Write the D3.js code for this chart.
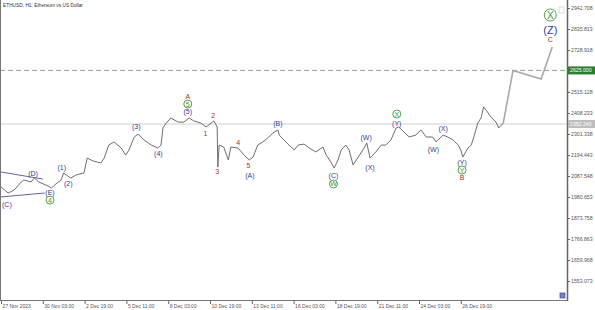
<!DOCTYPE html>
<html>
<head>
<meta charset="utf-8">
<script src="https://cdn.jsdelivr.net/npm/d3@7"></script>
<style>
  body { margin: 0; background: #fff; }
  svg { display: block; font-family: "Liberation Sans", Arial, sans-serif; }
</style>
</head>
<body>
<svg id="chart" width="595" height="310"></svg>
<script>
// price series (H1 closes)
var times = ["2023-11-27 11:00","2023-11-27 22:00","2023-11-28 07:00","2023-11-28 18:00","2023-11-28 22:00",
  "2023-11-29 09:00","2023-11-29 14:00","2023-11-29 21:00","2023-11-30 11:00","2023-11-30 16:00",
  "2023-11-30 23:00","2023-12-01 07:00","2023-12-01 11:00","2023-12-01 19:00","2023-12-01 22:00",
  "2023-12-02 06:00","2023-12-02 18:00","2023-12-02 23:00","2023-12-03 08:00","2023-12-03 20:00",
  "2023-12-04 01:00","2023-12-04 08:00","2023-12-04 16:00","2023-12-05 03:00","2023-12-05 10:00",
  "2023-12-05 15:00","2023-12-05 23:00","2023-12-06 05:00","2023-12-06 14:00","2023-12-07 01:00",
  "2023-12-07 11:00","2023-12-07 16:00","2023-12-07 19:00","2023-12-08 00:00","2023-12-08 07:00",
  "2023-12-08 18:00","2023-12-09 03:00","2023-12-09 11:00","2023-12-09 18:00","2023-12-10 05:00",
  "2023-12-10 13:00","2023-12-10 17:00","2023-12-11 01:00","2023-12-11 06:00","2023-12-11 07:00",
  "2023-12-11 09:00","2023-12-11 16:00","2023-12-11 23:00","2023-12-12 03:00","2023-12-12 14:00",
  "2023-12-12 23:00","2023-12-13 07:00","2023-12-13 13:00","2023-12-13 20:00","2023-12-14 04:00",
  "2023-12-14 13:00","2023-12-14 19:00","2023-12-15 03:00","2023-12-15 05:00","2023-12-15 12:00",
  "2023-12-15 20:00","2023-12-16 04:00","2023-12-16 10:00","2023-12-16 19:00","2023-12-17 03:00",
  "2023-12-17 13:00","2023-12-18 00:00","2023-12-18 05:00","2023-12-18 12:00","2023-12-18 17:00",
  "2023-12-18 23:00","2023-12-19 04:00","2023-12-19 11:00","2023-12-19 16:00","2023-12-19 22:00",
  "2023-12-20 06:00","2023-12-20 15:00","2023-12-20 19:00","2023-12-21 00:00","2023-12-21 09:00",
  "2023-12-21 17:00","2023-12-22 00:00","2023-12-22 08:00","2023-12-22 16:00","2023-12-22 20:00",
  "2023-12-23 04:00","2023-12-23 12:00","2023-12-23 22:00","2023-12-24 06:00","2023-12-24 14:00",
  "2023-12-25 00:00","2023-12-25 05:00","2023-12-25 16:00","2023-12-25 23:00","2023-12-26 07:00",
  "2023-12-26 15:00","2023-12-26 19:00","2023-12-26 22:00","2023-12-27 06:00","2023-12-27 11:00",
  "2023-12-27 15:00","2023-12-27 21:00","2023-12-28 02:00","2023-12-28 06:00","2023-12-28 13:00",
  "2023-12-28 17:00","2023-12-29 01:00","2023-12-29 05:00","2023-12-29 12:00"];
var prices = [2032,2001,2016,2057,2067, 2057,2077,2057,2037,2026,
  2047,2067,2103,2083,2077, 2093,2103,2179,2164,2154,
  2179,2245,2261,2230,2194, 2220,2286,2301,2271,2245,
  2230,2245,2332,2357,2383, 2362,2362,2383,2368,2357,
  2337,2347,2368,2337,2133, 2245,2235,2169,2235,2230,
  2194,2169,2184,2245,2261, 2286,2306,2322,2296,2271,
  2245,2220,2245,2250,2230, 2210,2235,2194,2159,2128,
  2169,2220,2245,2220,2144, 2184,2230,2256,2179,2210,
  2245,2245,2271,2332,2337, 2311,2286,2296,2322,2286,
  2286,2261,2296,2286,2271, 2245,2220,2184,2230,2245,
  2286,2357,2383,2439,2408, 2388,2362,2332,2357];

// projected path
var forecastTimes = ["2023-12-29 12:00","2023-12-30 03:00","2023-12-31 22:00","2024-01-01 15:00"];
var forecastPrices = [2357, 2625, 2581, 2744];

// triangle lines (D)-(E)
var triUpper = [["2023-11-27 11:00", 2108], ["2023-11-30 03:00", 2072]];
var triLower = [["2023-11-27 11:00", 1981], ["2023-11-30 06:00", 2001]];

var targetLevel = 2625.000;
var currentLevel = 2352.240;

var yTicks = [2942.708, 2835.813, 2728.918, 2515.128, 2408.233, 2301.338, 2194.443,
  2087.548, 1980.653, 1873.758, 1766.863, 1659.968, 1553.073];
var xTickTimes = ["2023-11-27 11:00","2023-11-30 03:00","2023-12-02 19:00","2023-12-05 11:00",
  "2023-12-08 03:00","2023-12-10 19:00","2023-12-13 11:00","2023-12-16 03:00",
  "2023-12-18 19:00","2023-12-21 11:00","2023-12-24 03:00","2023-12-26 19:00"];
var xTickLabels = ["27 Nov 2023","30 Nov 03:00","2 Dec 19:00","5 Dec 11:00","8 Dec 03:00",
  "10 Dec 19:00","13 Dec 11:00","16 Dec 03:00","18 Dec 19:00","21 Dec 11:00",
  "24 Dec 03:00","26 Dec 19:00"];

// wave labels: time, price, text, kind
var waveLabels = [
  ["2023-11-27 20:00", 1945, "(C)", "navy"],
  ["2023-11-29 12:00", 2098, "(D)", "navy"],
  ["2023-11-30 14:00", 2006, "(E)", "navy"],
  ["2023-11-30 14:00", 1965, "4", "circle"],
  ["2023-12-01 08:00", 2133, "(1)", "navy"],
  ["2023-12-01 18:00", 2047, "(2)", "navy"],
  ["2023-12-06 02:00", 2337, "(3)", "navy"],
  ["2023-12-07 12:00", 2200, "(4)", "navy"],
  ["2023-12-09 09:00", 2418, "(5)", "navy"],
  ["2023-12-09 09:00", 2454, "5", "circle"],
  ["2023-12-09 09:00", 2490, "A", "red"],
  ["2023-12-10 12:00", 2306, "1", "red"],
  ["2023-12-11 00:00", 2398, "2", "red"],
  ["2023-12-11 06:00", 2108, "3", "red"],
  ["2023-12-12 14:00", 2256, "4", "red"],
  ["2023-12-13 06:00", 2140, "5", "red"],
  ["2023-12-13 08:00", 2092, "(A)", "navy"],
  ["2023-12-15 03:00", 2357, "(B)", "navy"],
  ["2023-12-18 16:00", 2088, "(C)", "navy"],
  ["2023-12-18 16:00", 2047, "W", "circle"],
  ["2023-12-20 18:00", 2281, "(W)", "navy"],
  ["2023-12-21 00:00", 2133, "(X)", "navy"],
  ["2023-12-22 17:00", 2357, "(Y)", "navy"],
  ["2023-12-22 17:00", 2403, "X", "circle"],
  ["2023-12-25 01:00", 2220, "(W)", "navy"],
  ["2023-12-25 16:00", 2327, "(X)", "navy"],
  ["2023-12-26 21:00", 2154, "(Y)", "navy"],
  ["2023-12-26 21:00", 2118, "Y", "circle"],
  ["2023-12-26 21:00", 2082, "B", "red"],
  ["2024-01-01 12:00", 2907, "X", "bigcircle"],
  ["2024-01-01 12:00", 2831, "(Z)", "bignavy"],
  ["2024-01-01 12:00", 2780, "C", "red"]
];

var parseTime = d3.timeParse("%Y-%m-%d %H:%M");
var svg = d3.select("#chart");

var plotRight = 567, plotBottom = 300;

var x = d3.scaleTime()
  .domain([parseTime("2023-11-27 11:00"), parseTime("2024-01-02 13:36")])
  .range([1, plotRight]);
var y = d3.scaleLinear()
  .domain([1553.073, 2942.708])
  .range([281, 8]);

var navy = "#30409a", red = "#a8322b", green = "#3a9a3a";

// title
svg.append("text")
  .attr("x", 3).attr("y", 6.5)
  .attr("font-size", 4.8).attr("fill", "#333")
  .text("ETHUSD, H1:  Ethereum vs US Dollar");

// current price line
svg.append("line")
  .attr("x1", 0).attr("x2", plotRight)
  .attr("y1", y(currentLevel)).attr("y2", y(currentLevel))
  .attr("stroke", "#d0d0d0").attr("stroke-width", 1);

// target level dashed
svg.append("line")
  .attr("x1", 0).attr("x2", plotRight)
  .attr("y1", y(targetLevel)).attr("y2", y(targetLevel))
  .attr("stroke", "#7fb07f").attr("stroke-width", 1)
  .attr("stroke-dasharray", "5,3");

// triangle
var tline = d3.line()
  .x(function(d) { return x(parseTime(d[0])); })
  .y(function(d) { return y(d[1]); });
[triUpper, triLower].forEach(function(t) {
  svg.append("path").attr("d", tline(t))
    .attr("fill", "none").attr("stroke", "#3a3a8a").attr("stroke-width", 0.8);
});

// price
var pts = times.map(function(t, i) { return [parseTime(t), prices[i]]; });
var valueline = d3.line()
  .x(function(d) { return x(d[0]); })
  .y(function(d) { return y(d[1]); });
svg.append("path")
  .datum(pts)
  .attr("d", valueline)
  .attr("fill", "none").attr("stroke", "#6e6e6e").attr("stroke-width", 1);

// forecast
var fpts = forecastTimes.map(function(t, i) { return [parseTime(t), forecastPrices[i]]; });
svg.append("path")
  .datum(fpts)
  .attr("d", valueline)
  .attr("fill", "none").attr("stroke", "#a8a8a8").attr("stroke-width", 1.6);

// wave labels
waveLabels.forEach(function(l) {
  var lx = x(parseTime(l[0])), ly = y(l[1]), kind = l[3];
  if (kind === "circle" || kind === "bigcircle") {
    var r = kind === "bigcircle" ? 6 : 4;
    svg.append("circle").attr("cx", lx).attr("cy", ly).attr("r", r)
      .attr("fill", "#fff").attr("stroke", green).attr("stroke-width", 0.9);
    svg.append("text").attr("x", lx).attr("y", ly)
      .attr("text-anchor", "middle").attr("dominant-baseline", "central")
      .attr("font-size", kind === "bigcircle" ? 10 : 7).attr("fill", green)
      .text(l[2]);
  } else {
    svg.append("text").attr("x", lx).attr("y", ly)
      .attr("text-anchor", "middle").attr("dominant-baseline", "central")
      .attr("font-size", kind === "bignavy" ? 11 : 7)
      .attr("fill", kind === "red" ? red : navy)
      .text(l[2]);
  }
});

// frame
svg.append("line").attr("x1", 0.5).attr("x2", 0.5).attr("y1", 0).attr("y2", plotBottom)
  .attr("stroke", "#777");
svg.append("line").attr("x1", 0).attr("x2", plotRight).attr("y1", plotBottom + 0.5).attr("y2", plotBottom + 0.5)
  .attr("stroke", "#777");
svg.append("line").attr("x1", plotRight + 0.5).attr("x2", plotRight + 0.5).attr("y1", 0).attr("y2", plotBottom + 1)
  .attr("stroke", "#666").attr("stroke-width", 1.5);

// right axis
var yAxis = svg.append("g").attr("transform", "translate(" + (plotRight + 1) + ",0)")
  .call(d3.axisRight(y).tickValues(yTicks).tickSize(2).tickFormat(d3.format(".3f")));
yAxis.select(".domain").remove();
yAxis.selectAll("text").attr("font-size", 5.2).attr("fill", "#555").attr("x", 3);
yAxis.selectAll("line").attr("stroke", "#666");

// bottom axis
var xAxis = svg.append("g").attr("transform", "translate(0," + (plotBottom + 1) + ")")
  .call(d3.axisBottom(x).tickValues(xTickTimes.map(parseTime)).tickSize(3)
    .tickFormat(function(d, i) { return xTickLabels[i]; }));
xAxis.select(".domain").remove();
xAxis.selectAll("text").attr("font-size", 5).attr("fill", "#555")
  .attr("text-anchor", "start").attr("dy", 0).attr("y", 7).attr("x", 1);
xAxis.selectAll("line").attr("stroke", "#666");

// price tags on the axis
function tag(v, fill, txt) {
  svg.append("rect").attr("x", plotRight + 1).attr("y", y(v) - 4).attr("width", 27).attr("height", 8)
    .attr("fill", fill);
  svg.append("text").attr("x", plotRight + 3).attr("y", y(v))
    .attr("dominant-baseline", "central").attr("font-size", 5.2).attr("fill", "#fff")
    .text(txt);
}
tag(targetLevel, "#2f7d2f", d3.format(".3f")(targetLevel));
tag(currentLevel, "#bdbdbd", d3.format(".3f")(currentLevel));

// small icons
svg.append("rect").attr("x", 559).attr("y", 7).attr("width", 5).attr("height", 6)
  .attr("fill", "none").attr("stroke", "#ccc").attr("stroke-width", 0.7);
svg.append("rect").attr("x", 560).attr("y", 293).attr("width", 5).attr("height", 5)
  .attr("fill", "#7c7cc8").attr("stroke", "#4a4a9a").attr("stroke-width", 0.7);
</script>
</body>
</html>
